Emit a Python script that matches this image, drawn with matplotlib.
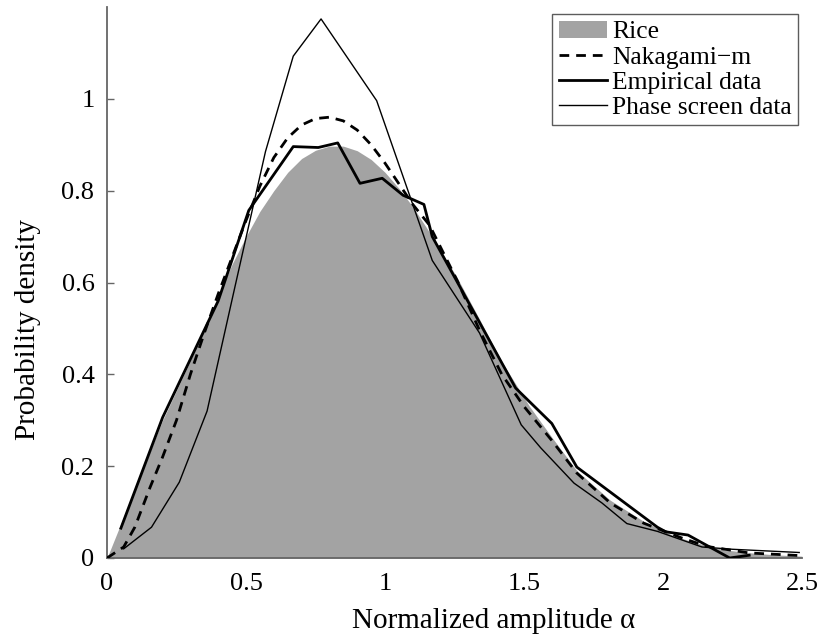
import matplotlib
matplotlib.use("Agg")
import matplotlib.pyplot as plt
from matplotlib.patches import Patch
from matplotlib.lines import Line2D

# Rice (filled area)
rice_x = [0, 0.1, 0.2, 0.3, 0.4, 0.45, 0.5, 0.55, 0.6, 0.65, 0.7, 0.75, 0.8, 0.85, 0.9,
          0.95, 1.0, 1.05, 1.10, 1.17, 1.26, 1.34, 1.42, 1.52, 1.60, 1.69, 1.81, 1.93,
          2.04, 2.12, 2.22, 2.30, 2.40, 2.50]
rice_y = [0, 0.15, 0.30, 0.43, 0.57, 0.64, 0.70, 0.755, 0.80, 0.84, 0.87, 0.888, 0.897,
          0.897, 0.887, 0.868, 0.84, 0.805, 0.765, 0.70, 0.61, 0.52, 0.428, 0.33, 0.263,
          0.19, 0.126, 0.08, 0.048, 0.033, 0.018, 0.012, 0.007, 0.004]

# Nakagami-m
naka_x = [0, 0.06, 0.1, 0.155, 0.2, 0.25, 0.3, 0.35, 0.4, 0.45, 0.5, 0.55, 0.6, 0.65,
          0.7, 0.75, 0.8, 0.85, 0.9, 0.95, 1.0, 1.05, 1.1, 1.16, 1.26, 1.34, 1.42, 1.50,
          1.60, 1.69, 1.81, 1.93, 2.07, 2.16, 2.31, 2.5]
naka_y = [0, 0.024, 0.067, 0.154, 0.22, 0.30, 0.40, 0.49, 0.575, 0.655, 0.735, 0.81,
          0.872, 0.915, 0.943, 0.957, 0.96, 0.952, 0.932, 0.9, 0.86, 0.815, 0.77, 0.725,
          0.604, 0.496, 0.40, 0.33, 0.256, 0.185, 0.12, 0.076, 0.043, 0.025, 0.011, 0.005]

# Empirical data
emp_x = [0.05, 0.20, 0.40, 0.51, 0.67, 0.76, 0.83, 0.91, 0.99, 1.065, 1.14, 1.17, 1.47,
         1.60, 1.69, 1.98, 2.01, 2.09, 2.24, 2.31]
emp_y = [0.065, 0.306, 0.56, 0.757, 0.896, 0.894, 0.904, 0.816, 0.827, 0.79, 0.77, 0.70,
         0.37, 0.293, 0.198, 0.067, 0.057, 0.05, 0.0, 0.006]

# Phase screen data
phase_x = [0.06, 0.16, 0.26, 0.36, 0.46, 0.57, 0.67, 0.77, 0.97, 1.17, 1.34, 1.49, 1.56,
           1.68, 1.78, 1.87, 1.98, 2.14, 2.25, 2.49]
phase_y = [0.02, 0.067, 0.165, 0.32, 0.59, 0.885, 1.093, 1.174, 0.996, 0.648, 0.49, 0.29,
           0.24, 0.163, 0.12, 0.075, 0.058, 0.024, 0.019, 0.012]

x_ticks = [0, 0.5, 1, 1.5, 2, 2.5]
x_tick_labels = ["0", "0.5", "1", "1.5", "2", "2.5"]
y_ticks = [0, 0.2, 0.4, 0.6, 0.8, 1]
y_tick_labels = ["0", "0.2", "0.4", "0.6", "0.8", "1"]

plt.rcParams['font.family'] = ['Liberation Serif', 'DejaVu Serif']

fig = plt.figure(figsize=(8.31, 6.41), dpi=100)
ax = fig.add_axes([107/831, 1 - 558/641, (802 - 107)/831, (558 - 7)/641])

gray = '#a3a3a3'
ax.fill_between(rice_x, 0, rice_y, color=gray, linewidth=0, zorder=1)
ax.plot(naka_x, naka_y, color='black', linewidth=2.0, linestyle=(0, (3.5, 2.5)), zorder=3)
ax.plot(emp_x, emp_y, color='black', linewidth=2.0, zorder=4)
ax.plot(phase_x, phase_y, color='black', linewidth=1.0, zorder=5)

ax.set_xlim(0, 2.5)
ax.set_ylim(0, 1.2)
ax.set_xticks(x_ticks)
ax.set_xticklabels(x_tick_labels)
ax.set_yticks(y_ticks)
ax.set_yticklabels(y_tick_labels)

for s in ['top', 'right']:
    ax.spines[s].set_visible(False)
for s in ['left', 'bottom']:
    ax.spines[s].set_color('#666666')
    ax.spines[s].set_linewidth(1.3)

ax.tick_params(axis='y', direction='in', length=5, width=1.0, color='#666666',
               pad=9, labelsize=19)
ax.tick_params(axis='x', direction='in', length=0, pad=11, labelsize=19)

ax.set_xlabel('Normalized amplitude α', fontsize=21)
ax.set_ylabel('Probability density', fontsize=21)
ax.xaxis.set_label_coords((494 - 107) / 695, -(608 - 558) / 551)
ax.yaxis.set_label_coords(-(107 - 41) / 695, (558 - 330) / 551)

handles = [
    Patch(facecolor=gray, edgecolor='none', label='Rice'),
    Line2D([], [], color='black', linewidth=2.0, linestyle=(0, (3.5, 2.5)), label='Nakagami\u2212m'),
    Line2D([], [], color='black', linewidth=2.0, label='Empirical data'),
    Line2D([], [], color='black', linewidth=1.0, label='Phase screen data'),
]
leg = ax.legend(handles=handles, loc='upper right', bbox_to_anchor=(0.994, 0.987),
                fontsize=18.4, frameon=True, fancybox=False, handlelength=1.88,
                handletextpad=0.2, labelspacing=0.09, borderpad=0.25,
                borderaxespad=0.0)
leg.get_frame().set_edgecolor('#333333')
leg.get_frame().set_linewidth(1.0)

fig.savefig('out.png', dpi=100)
